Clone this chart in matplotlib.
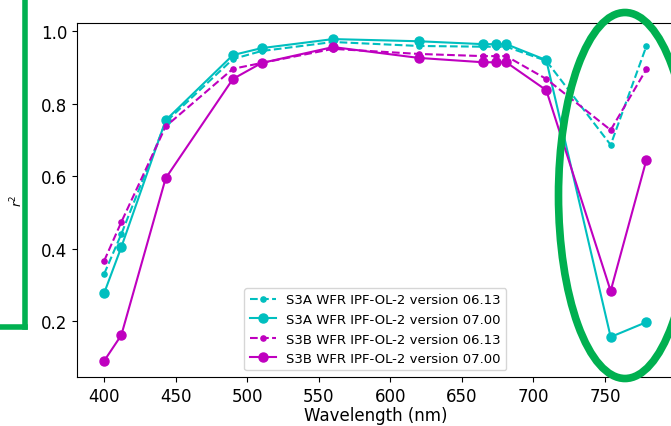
import numpy as np
import matplotlib
matplotlib.use("Agg")
import matplotlib.pyplot as plt
from matplotlib.patches import Ellipse
from matplotlib.lines import Line2D

# comprimentos de onda (nm)
wavelength = [400, 412, 443, 490, 510, 560, 620, 665, 674, 681, 709, 754, 779]

# r2 por versao
s3a_0613 = [0.330, 0.440, 0.749, 0.923, 0.945, 0.970, 0.959, 0.957, 0.957, 0.957, 0.918, 0.686, 0.959]
s3a_0700 = [0.277, 0.404, 0.754, 0.934, 0.953, 0.978, 0.972, 0.964, 0.964, 0.964, 0.920, 0.156, 0.197]
s3b_0613 = [0.366, 0.473, 0.737, 0.896, 0.912, 0.951, 0.937, 0.931, 0.931, 0.931, 0.868, 0.727, 0.895]
s3b_0700 = [0.090, 0.161, 0.594, 0.868, 0.912, 0.956, 0.926, 0.914, 0.914, 0.914, 0.837, 0.283, 0.645]

labels = ["S3A WFR IPF-OL-2 version 06.13",
          "S3A WFR IPF-OL-2 version 07.00",
          "S3B WFR IPF-OL-2 version 06.13",
          "S3B WFR IPF-OL-2 version 07.00"]

fig = plt.figure(figsize=(6.71, 4.27), dpi=100)
ax = fig.add_axes([0.1148, 0.1148, 0.889, 0.829])

ax.plot(wavelength, s3a_0613, "c.--", markersize=7.5, lw=1.5, label=labels[0])
ax.plot(wavelength, s3a_0700, "co-", markersize=6.5, lw=1.5, label=labels[1])
ax.plot(wavelength, s3b_0613, "m.--", markersize=7.5, lw=1.5, label=labels[2])
ax.plot(wavelength, s3b_0700, "mo-", markersize=6.5, lw=1.5, label=labels[3])

ax.set_xticks([400, 450, 500, 550, 600, 650, 700, 750])
ax.set_yticks([0.2, 0.4, 0.6, 0.8, 1.0])
ax.tick_params(labelsize=12)
ax.set_xlabel("Wavelength (nm)", fontsize=12, labelpad=1)
ax.set_ylabel("$r^2$", fontsize=9, labelpad=11)
ax.legend(loc="lower center", fontsize=9.5)

# marcacoes verdes
verde = "#00B050"
fig.add_artist(Line2D([24.5 / 671, 24.5 / 671], [1.0, 1 - 328 / 427],
                      transform=fig.transFigure, color=verde, lw=4))
fig.add_artist(Line2D([0, 24.5 / 671], [1 - 328 / 427, 1 - 328 / 427],
                      transform=fig.transFigure, color=verde, lw=4))
fig.add_artist(Ellipse((625 / 671, 1 - 196.5 / 427), 133 / 671, 366 / 427,
                       transform=fig.transFigure, fill=False, edgecolor=verde, lw=5.5))

fig.savefig("out.png", dpi=100)
